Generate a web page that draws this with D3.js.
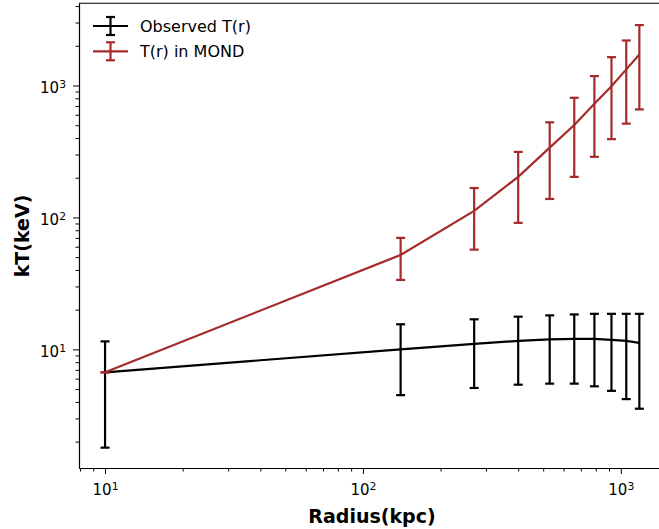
<!DOCTYPE html>
<html>
<head>
<meta charset="utf-8">
<script src="https://cdn.jsdelivr.net/npm/d3@7"></script>
<style>
  body { margin: 0; background: #fff; }
  svg { display: block; font-family: 'DejaVu Sans', sans-serif; }
</style>
</head>
<body>
<svg id="canvas"></svg>
<script>
// Radii of the annuli (kpc).
var radius = [10, 140, 270, 400, 530, 660, 790, 920, 1050, 1180];

// Observed temperature profile (keV) with error limits.
var obsT     = [6.7, 10.0, 11.0, 11.6, 11.9, 12.0, 12.0, 11.8, 11.6, 11.2];
var obsUpper = [11.5, 15.5, 16.9, 17.7, 18.1, 18.4, 18.6, 18.6, 18.6, 18.6];
var obsLower = [1.8, 4.5, 5.1, 5.4, 5.5, 5.5, 5.25, 4.85, 4.2, 3.55];

// MOND temperature profile (keV) with error limits.
var mondT     = [6.7, 52, 112, 203, 338, 502, 728, 988, 1325, 1718];
var mondUpper = [6.7, 70, 167, 314, 526, 807, 1178, 1640, 2194, 2870];
var mondLower = [6.7, 33.6, 57, 91, 138, 203, 288, 392, 514, 659];

// Legend labels and tick values.
var seriesNames = ['Observed T(r)', 'T(r) in MOND'];
var xMajor = [10, 100, 1000];
var yMajor = [10, 100, 1000];

// Canvas settings.
var canvas = {
  w: 659,
  h: 529,
  plot: { left: 79, right: 668, top: 3.3, bottom: 468 },
  colours: { obs: '#000000', mond: '#a52a2a' }
};

var svg = d3.select('#canvas')
            .attr('width', canvas.w)
            .attr('height', canvas.h);

// Log scales.
var x = d3.scaleLog()
          .domain([Math.pow(10, 0.899), Math.pow(10, 3.183)])
          .range([canvas.plot.left, canvas.plot.right]);

var y = d3.scaleLog()
          .domain([Math.pow(10, 0.101), Math.pow(10, 3.623)])
          .range([canvas.plot.bottom, canvas.plot.top]);

// Minor tick values inside the domain.
var minorTicks = function(scale) {
  var d = scale.domain(), out = [];
  for (var e = 0; e < 4; e++) {
    for (var m = 2; m < 10; m++) {
      var v = m * Math.pow(10, e);
      if (v >= d[0] && v <= d[1]) out.push(v);
    }
  }
  return out;
};

// Superscript tick labels, 10^n.
var powerLabel = function(sel) {
  sel.each(function(d) {
    var t = d3.select(this).text('');
    t.append('tspan').text('10');
    t.append('tspan')
     .attr('dy', '-0.45em')
     .attr('font-size', '10.8px')
     .text(Math.round(Math.log10(d)));
  });
};

// X axis.
var xAxisG = svg.append('g').attr('transform', 'translate(0,' + canvas.plot.bottom + ')');
xAxisG.append('g')
      .call(d3.axisBottom(x).tickValues(minorTicks(x)).tickSize(3.5).tickSizeOuter(0).tickFormat(''));
xAxisG.append('g')
      .call(d3.axisBottom(x).tickValues(xMajor).tickSize(6).tickSizeOuter(0))
      .call(function(g) {
        g.selectAll('text')
         .attr('y', 27)
         .attr('dy', 0)
         .attr('font-size', '15px')
         .attr('font-family', 'DejaVu Sans')
         .attr('fill', '#000')
         .call(powerLabel);
      });

// Y axis.
var yAxisG = svg.append('g').attr('transform', 'translate(' + canvas.plot.left + ',0)');
yAxisG.append('g')
      .call(d3.axisLeft(y).tickValues(minorTicks(y)).tickSize(3.5).tickSizeOuter(0).tickFormat(''));
yAxisG.append('g')
      .call(d3.axisLeft(y).tickValues(yMajor).tickSize(6).tickSizeOuter(0))
      .call(function(g) {
        g.selectAll('text')
         .attr('x', -13)
         .attr('dy', '0.45em')
         .attr('font-size', '15px')
         .attr('font-family', 'DejaVu Sans')
         .attr('fill', '#000')
         .call(powerLabel);
      });

svg.selectAll('.domain').attr('stroke', '#000').attr('stroke-width', 1.1);
svg.selectAll('.tick line').attr('stroke', '#000').attr('stroke-width', 1);

// Top spine.
svg.append('line')
   .attr('x1', canvas.plot.left).attr('x2', canvas.plot.right)
   .attr('y1', canvas.plot.top).attr('y2', canvas.plot.top)
   .attr('stroke', '#000').attr('stroke-width', 1.1);

// Axis labels.
svg.append('text')
   .attr('x', 372).attr('y', 523)
   .attr('text-anchor', 'middle')
   .attr('font-size', '19px')
   .attr('font-weight', 'bold')
   .text('Radius(kpc)');

svg.append('text')
   .attr('transform', 'translate(29,236) rotate(-90)')
   .attr('text-anchor', 'middle')
   .attr('font-size', '19px')
   .attr('font-weight', 'bold')
   .text('kT(keV)');

// Draw one series with its error bars.
var drawSeries = function(vals, lower, upper, colour) {
  var g = svg.append('g');
  var line = d3.line()
               .x(function(d, i) { return x(radius[i]); })
               .y(function(d) { return y(d); });

  g.append('path')
   .datum(vals)
   .attr('d', line)
   .attr('fill', 'none')
   .attr('stroke', colour)
   .attr('stroke-width', 2.2);

  var bars = g.selectAll('g.bar')
              .data(vals)
              .enter()
              .append('g')
              .attr('class', 'bar');

  bars.append('line')
      .attr('x1', function(d, i) { return x(radius[i]); })
      .attr('x2', function(d, i) { return x(radius[i]); })
      .attr('y1', function(d, i) { return y(lower[i]); })
      .attr('y2', function(d, i) { return y(upper[i]); })
      .attr('stroke', colour)
      .attr('stroke-width', 2.2);

  [lower, upper].forEach(function(lim) {
    bars.append('line')
        .attr('x1', function(d, i) { return x(radius[i]) - 4.5; })
        .attr('x2', function(d, i) { return x(radius[i]) + 4.5; })
        .attr('y1', function(d, i) { return y(lim[i]); })
        .attr('y2', function(d, i) { return y(lim[i]); })
        .attr('stroke', colour)
        .attr('stroke-width', 2.2);
  });
};

drawSeries(obsT, obsLower, obsUpper, canvas.colours.obs);
drawSeries(mondT, mondLower, mondUpper, canvas.colours.mond);

// Legend.
var legend = svg.append('g');
[canvas.colours.obs, canvas.colours.mond].forEach(function(colour, i) {
  var ly = 26 + i * 25.3;
  var item = legend.append('g');
  item.append('line')
      .attr('x1', 93).attr('x2', 128).attr('y1', ly).attr('y2', ly)
      .attr('stroke', colour).attr('stroke-width', 2.2);
  item.append('line')
      .attr('x1', 110.5).attr('x2', 110.5).attr('y1', ly - 9).attr('y2', ly + 9)
      .attr('stroke', colour).attr('stroke-width', 2.2);
  [-9, 9].forEach(function(o) {
    item.append('line')
        .attr('x1', 106).attr('x2', 115).attr('y1', ly + o).attr('y2', ly + o)
        .attr('stroke', colour).attr('stroke-width', 2.2);
  });
  item.append('text')
      .attr('x', 140).attr('y', ly + 5.8)
      .attr('font-size', '16px')
      .text(seriesNames[i]);
});
</script>
</body>
</html>
